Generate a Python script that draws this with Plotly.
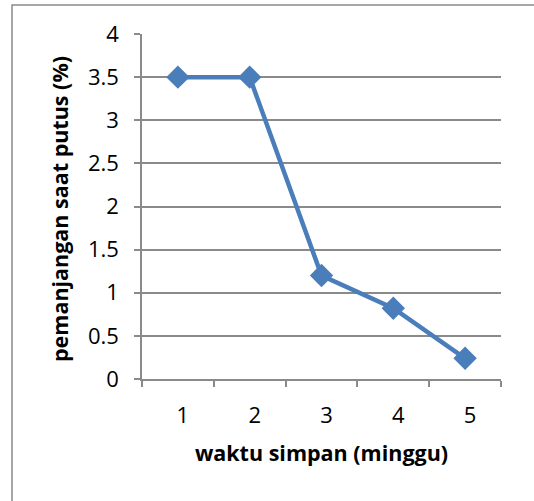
import plotly.graph_objects as go

weeks = ["1", "2", "3", "4", "5"]
elongation = [3.5, 3.5, 1.2, 0.82, 0.24]
y_ticks = [0, 0.5, 1, 1.5, 2, 2.5, 3, 3.5, 4]
y_tick_labels = ["0", "0.5", "1", "1.5", "2", "2.5", "3", "3.5", "4"]
x_title = "waktu simpan (minggu)"
y_title = "pemanjangan saat putus (%)"

font = "Open Sans, Liberation Sans, sans-serif"
grid = "#8a8a8a"

fig = go.Figure()
fig.add_trace(go.Scatter(
    x=weeks, y=elongation, mode="lines+markers",
    line=dict(color="#4a7ebb", width=4.5),
    marker=dict(symbol="diamond", size=18, color="#4a7ebb"),
    cliponaxis=False, showlegend=False,
))

fig.update_layout(
    width=534, height=501,
    margin=dict(l=142, r=33, t=34, b=122, autoexpand=False),
    paper_bgcolor="white", plot_bgcolor="white",
    font=dict(family=font, size=22, color="black"),
    xaxis=dict(
        type="category", tickson="boundaries", range=[-0.5, 4.5],
        ticks="outside", ticklen=6, tickcolor=grid, tickwidth=1.5,
        showline=True, linecolor=grid, linewidth=1.5,
        showgrid=False, automargin=False,
        tickfont=dict(size=22), ticklabelstandoff=16, ticklabelshift=5,
        title=dict(text="<b>" + x_title + "</b>", font=dict(size=21.5), standoff=18),
    ),
    yaxis=dict(
        range=[0, 4], tickvals=y_ticks, ticktext=y_tick_labels,
        ticks="outside", ticklen=6, tickcolor=grid, tickwidth=1.5,
        showline=True, linecolor=grid, linewidth=1.5,
        showgrid=True, gridcolor=grid, gridwidth=1.5,
        zeroline=False, automargin=False,
        tickfont=dict(size=22), ticklabelstandoff=11,
    ),
    annotations=[dict(
        text="<b>" + y_title + "</b>", textangle=-90,
        xref="paper", yref="paper", x=(59 - 142) / 359, y=(379 - 209) / 345,
        xanchor="center", yanchor="middle", showarrow=False,
        font=dict(size=21.5, family=font, color="black"),
    )],
    shapes=[dict(
        type="rect", xref="paper", yref="paper",
        x0=-130 / 359, x1=2, y0=-1, y1=374 / 345,
        line=dict(color="#8a8a8a", width=1.5),
    )],
)

fig.write_html("out.html", config={"displayModeBar": False},
               post_script="document.body.style.margin='0';")
